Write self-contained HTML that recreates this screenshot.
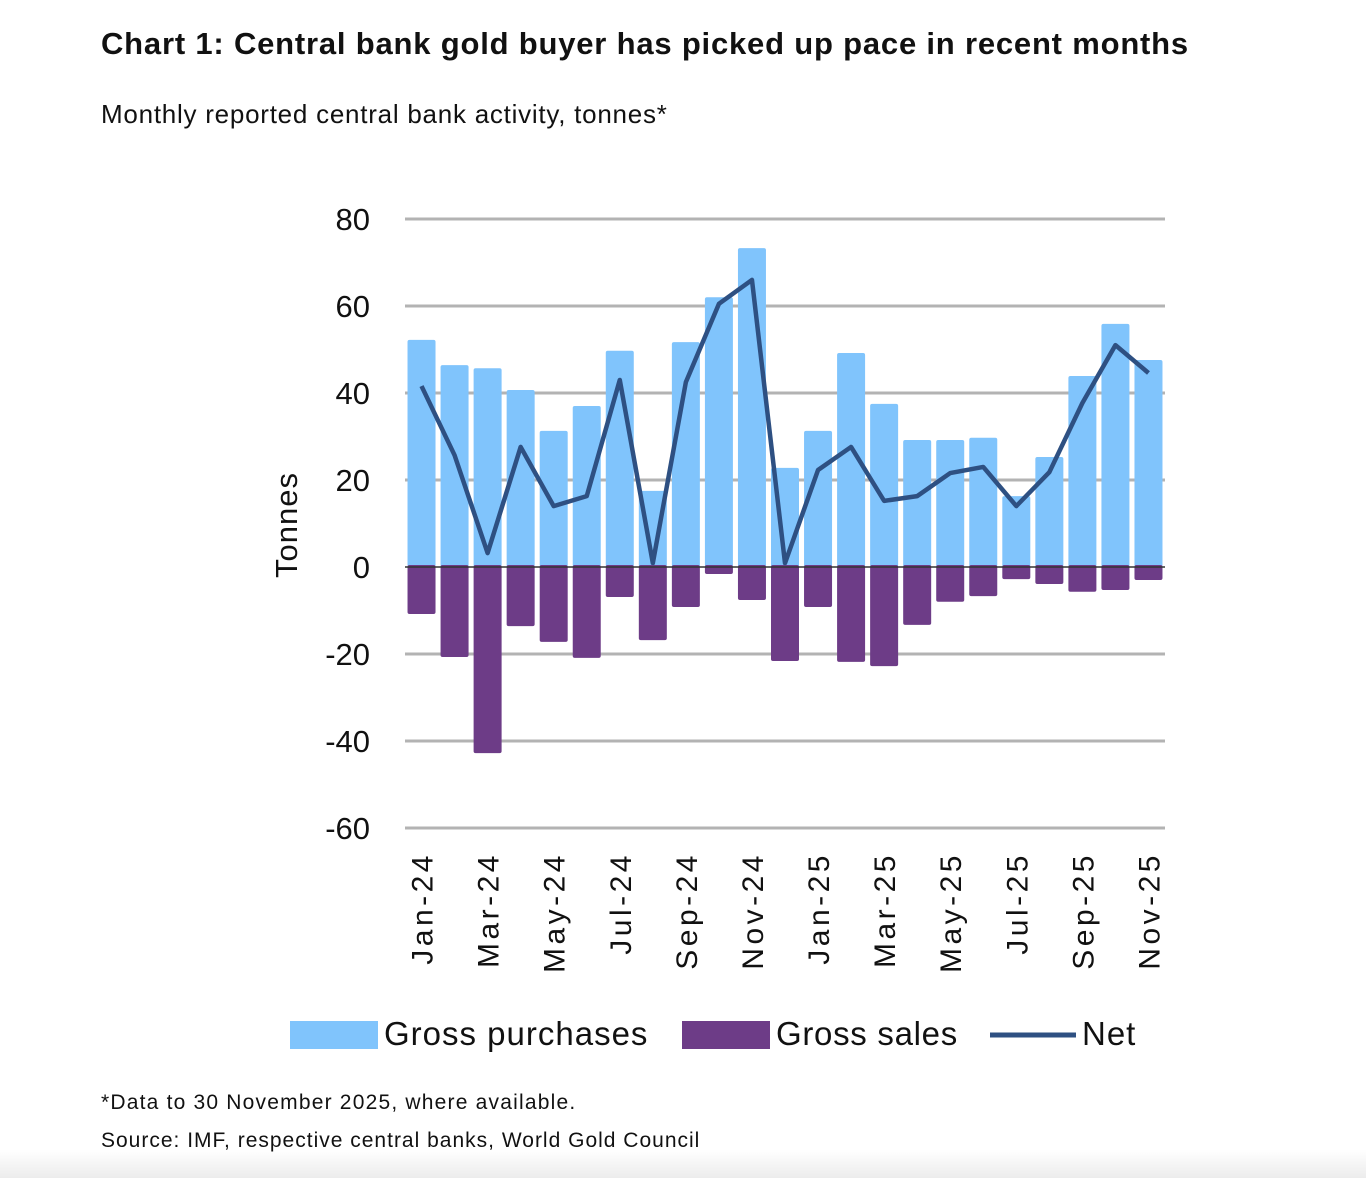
<!DOCTYPE html>
<html><head><meta charset="utf-8"><style>
body{margin:0;background:#fff;width:1366px;height:1178px;overflow:hidden;font-family:"Liberation Sans",sans-serif;color:#111}
.t{position:absolute;left:101px;top:26px;font-size:31px;font-weight:bold;letter-spacing:0.8px}
.s{position:absolute;left:101px;top:99px;font-size:26px;letter-spacing:0.75px}
.f{position:absolute;left:101px;font-size:21px}
.bot{position:absolute;left:0;top:1150px;width:1366px;height:28px;background:linear-gradient(#fff,#ececec)}
</style></head><body>
<div class="bot"></div>
<div class="t">Chart 1: Central bank gold buyer has picked up pace in recent months</div>
<div class="s">Monthly reported central bank activity, tonnes*</div>
<svg id="c" width="1366" height="1178" style="position:absolute;left:0;top:0"></svg>
<div class="f" style="top:1091px;letter-spacing:1.2px">*Data to 30 November 2025, where available.</div>
<div class="f" style="top:1129px;letter-spacing:1px">Source: IMF, respective central banks, World Gold Council</div>
<script>
const months=["Jan-24","Feb-24","Mar-24","Apr-24","May-24","Jun-24","Jul-24","Aug-24","Sep-24","Oct-24","Nov-24","Dec-24","Jan-25","Feb-25","Mar-25","Apr-25","May-25","Jun-25","Jul-25","Aug-25","Sep-25","Oct-25","Nov-25"];
const purchases=[52.2,46.4,45.7,40.7,31.3,37,49.7,17.5,51.7,62,73.3,22.8,31.3,49.2,37.5,29.2,29.2,29.7,16.3,25.3,43.9,55.9,47.6];
const sales=[-10.8,-20.7,-42.8,-13.6,-17.2,-20.9,-6.9,-16.8,-9.2,-1.6,-7.6,-21.6,-9.2,-21.8,-22.8,-13.3,-8,-6.7,-2.8,-3.9,-5.7,-5.3,-3];
const net=[41.6,25.7,3.2,27.6,14,16.3,43,0.9,42.5,60.5,66,0.9,22.3,27.6,15.2,16.3,21.6,23,14,21.8,37.7,51,44.6];
const yTicks=[80,60,40,20,0,-20,-40,-60];
const NS="http://www.w3.org/2000/svg",svg=document.getElementById('c');
function mk(t,a,txt){const e=document.createElementNS(NS,t);for(const k in a)e.setAttribute(k,a[k]);if(txt!=null)e.textContent=txt;svg.appendChild(e);return e;}
const y=v=>567-v*4.35;
const x0=405,x1=1165,step=(x1-x0)/months.length;
const xc=i=>x0+step*(i+0.5);
const bw=28;
yTicks.forEach(v=>{
 if(v!==0){const g=mk('line',{x1:x0,x2:x1,y1:y(v),y2:y(v),stroke:'#b3b3b3','stroke-width':3});
 
 }
 const t=mk('text',{x:370,y:y(v)+11,'text-anchor':'end','font-size':31,fill:'#111'},v);
 
 
});
const yt=mk('text',{x:0,y:0,transform:'translate(297,525) rotate(-90)','text-anchor':'middle','font-size':31,fill:'#111','letter-spacing':1},'Tonnes');


months.forEach((m,i)=>{
 const b=mk('rect',{x:xc(i)-bw/2,y:y(purchases[i]),width:bw,height:y(0)-y(purchases[i]),fill:'#80c4fc',rx:2});
 
 
 const s=mk('rect',{x:xc(i)-bw/2,y:y(0)-2,width:bw,height:y(sales[i])-y(0)+2,fill:'#6d3c87',rx:2});
 
 
 if(i%2===0){const t=mk('text',{x:0,y:0,transform:`translate(${xc(i)+11},852) rotate(-90)`,'text-anchor':'end','font-size':30,fill:'#111','letter-spacing':3.5},m);
 
 }
});
const ax=mk('line',{x1:x0,x2:x1,y1:y(0),y2:y(0),stroke:'#333','stroke-width':1.5});


const nl=mk('polyline',{points:net.map((v,i)=>xc(i)+','+y(v)).join(' '),fill:'none',stroke:'#2e5082','stroke-width':4.5,'stroke-linejoin':'round'});


const l1=mk('rect',{x:290,y:1021,width:88,height:28,fill:'#80c4fc'});


const lt1=mk('text',{x:384,y:1045,'font-size':33,fill:'#111','letter-spacing':1},'Gross purchases');


const l2=mk('rect',{x:682,y:1021,width:88,height:28,fill:'#6d3c87'});


const lt2=mk('text',{x:776,y:1045,'font-size':33,fill:'#111','letter-spacing':0.7},'Gross sales');


const l3=mk('line',{x1:990,x2:1076,y1:1035,y2:1035,stroke:'#2e5082','stroke-width':5});


const lt3=mk('text',{x:1082,y:1045,'font-size':33,fill:'#111','letter-spacing':1},'Net');


</script>
</body></html>
